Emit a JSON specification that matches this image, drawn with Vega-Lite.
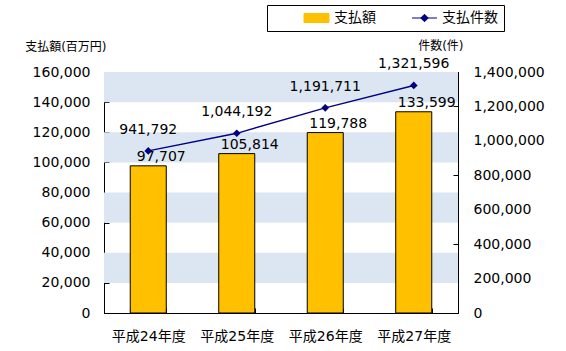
{
  "$schema": "https://vega.github.io/schema/vega-lite/v6.json",
  "width": 354,
  "height": 241,
  "autosize": {"type": "none"},
  "padding": {"left": 104, "top": 72, "right": 108, "bottom": 38},
  "background": "white",
  "config": {
    "font": "DejaVu Sans, Noto Sans CJK JP",
    "view": {"stroke": "black", "strokeWidth": 1},
    "axis": {
      "grid": false,
      "domainColor": "black",
      "tickColor": "black",
      "labelColor": "black",
      "labelFontSize": 14,
      "titleColor": "black",
      "titleFontWeight": "normal",
      "titleFontSize": 12,
      "tickSize": -5
    },
    "legend": {
      "orient": "none", "legendX": 163, "legendY": -67,
      "direction": "horizontal",
      "strokeColor": "black", "padding": 6,
      "symbolSize": 625, "clipHeight": 14,
      "labelOffset": 35, "columnPadding": 5,
      "labelFontSize": 14, "labelColor": "black"
    }
  },
  "datasets": {
    "main": [
      {"year": "平成24年度", "amount": 97707, "count": 941792},
      {"year": "平成25年度", "amount": 105814, "count": 1044192},
      {"year": "平成26年度", "amount": 119788, "count": 1191711},
      {"year": "平成27年度", "amount": 133599, "count": 1321596}
    ],
    "bands": [
      {"lo": 20000, "hi": 40000},
      {"lo": 60000, "hi": 80000},
      {"lo": 100000, "hi": 120000},
      {"lo": 140000, "hi": 160000}
    ]
  },
  "data": {"name": "main"},
  "layer": [
    {
      "layer": [
        {
          "data": {"name": "bands"},
          "mark": {"type": "rect", "color": "#DCE6F2"},
          "encoding": {
            "y": {"field": "lo", "type": "quantitative", "scale": {"domain": [0, 160000], "nice": false},
              "axis": {"title": "支払額(百万円)", "titleAngle": 0, "titleAlign": "right", "titleBaseline": "middle", "titleX": 2, "titleY": -26, "values": [0, 20000, 40000, 60000, 80000, 100000, 120000, 140000, 160000], "format": ",.0f", "labelPadding": 19}},
            "y2": {"field": "hi"}
          }
        },
        {
          "encoding": {
            "x": {"field": "year", "type": "nominal", "sort": null, "scale": {"paddingInner": 0.593, "paddingOuter": 0.2966},
              "axis": {"title": null, "labelAngle": 0, "tickBand": "extent", "labelPadding": 21}},
            "y": {"field": "amount", "type": "quantitative", "scale": {"domain": [0, 160000], "nice": false},
              "axis": {"title": "支払額(百万円)", "titleAngle": 0, "titleAlign": "right", "titleBaseline": "middle", "titleX": 2, "titleY": -26, "values": [0, 20000, 40000, 60000, 80000, 100000, 120000, 140000, 160000], "format": ",.0f", "labelPadding": 19}}
          },
          "layer": [
            {
              "mark": {"type": "bar", "stroke": "black", "strokeWidth": 1},
              "encoding": {
                "color": {"datum": "支払額", "type": "nominal",
                  "scale": {"domain": ["支払額", "支払件数"], "range": ["#FFC000", "#000080"]},
                  "legend": {
                    "title": null,
                    "encode": {
                      "symbols": {"update": {
                        "shape": {"signal": "datum.value === '支払額' ? 'M1.44,-0.36H3.44V0.36H1.44Z' : 'M1.44,0H3.44M2.44,-0.3L2.74,0L2.44,0.3L2.14,0ZM10.5,0'"},
                        "fill": {"signal": "datum.value === '支払額' ? '#FFC000' : '#000080'"},
                        "stroke": {"signal": "datum.value === '支払額' ? '#000000' : '#000080'"},
                        "strokeWidth": {"value": 1},
                        "size": {"value": 625},
                        "opacity": {"value": 1}
                      }}
                    }
                  }
                }
              }
            },
            {
              "mark": {"type": "text", "dx": 13, "dy": -9, "fontSize": 14, "baseline": "middle", "color": "black"},
              "encoding": {"text": {"field": "amount", "type": "quantitative", "format": ",.0f"}}
            }
          ]
        }
      ]
    },
    {
      "encoding": {
        "x": {"field": "year", "type": "nominal", "sort": null,
          "axis": {"title": null, "labelAngle": 0, "tickBand": "extent", "labelPadding": 21}},
        "y": {"field": "count", "type": "quantitative", "scale": {"domain": [0, 1400000], "nice": false},
          "axis": {"orient": "right", "title": "件数(件)", "titleAngle": 0, "titleAlign": "right", "titleBaseline": "middle", "titleX": 5, "titleY": -27, "values": [0, 200000, 400000, 600000, 800000, 1000000, 1200000, 1400000], "format": ",.0f", "labelPadding": 20}}
      },
      "layer": [
        {
          "mark": {"type": "line", "strokeWidth": 1.3, "point": {"shape": "diamond", "size": 60, "filled": true}},
          "encoding": {"color": {"datum": "支払件数", "type": "nominal",
            "legend": {
              "title": null,
              "encode": {
                "symbols": {"update": {
                  "shape": {"signal": "datum.value === '支払額' ? 'M1.44,-0.36H3.44V0.36H1.44Z' : 'M1.44,0H3.44M2.44,-0.3L2.74,0L2.44,0.3L2.14,0ZM10.5,0'"},
                  "fill": {"signal": "datum.value === '支払額' ? '#FFC000' : '#000080'"},
                  "stroke": {"signal": "datum.value === '支払額' ? '#000000' : '#000080'"},
                  "strokeWidth": {"value": 1},
                  "size": {"value": 625},
                  "opacity": {"value": 1}
                }}
              }
            }}}
        },
        {
          "mark": {"type": "text", "dy": -21, "fontSize": 14, "baseline": "middle", "color": "black"},
          "encoding": {"text": {"field": "count", "type": "quantitative", "format": ",.0f"}}
        }
      ]
    }
  ],
  "resolve": {"scale": {"y": "independent"}}
}
